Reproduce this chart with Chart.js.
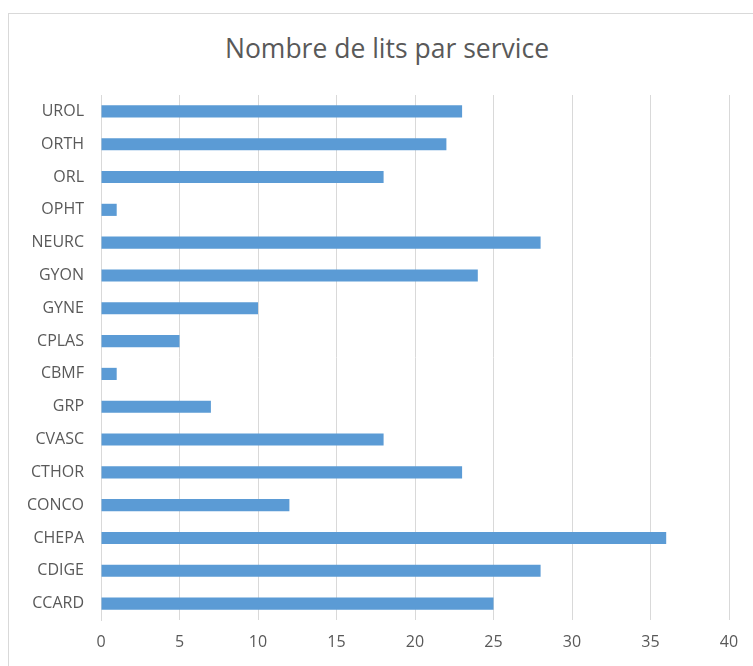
<!DOCTYPE html>
<html>
<head>
<meta charset="utf-8">
<script src="https://cdn.jsdelivr.net/npm/chart.js@4.4.0/dist/chart.umd.min.js"></script>
<style>
  html, body { margin: 0; padding: 0; background: #fff; overflow: hidden; }
  #frame { position: absolute; left: 8px; top: 13px; width: 780px; height: 700px; border: 1px solid #d9d9d9; }
  #wrap { position: absolute; left: 0; top: 0; width: 753px; height: 666px; }
  #title { position: absolute; left: 187px; width: 400px; top: 30px; text-align: center;
           font-family: 'Open Sans', sans-serif; font-size: 26.5px; line-height: 36px; color: #595959; }
</style>
</head>
<body>
<div id="frame"></div>
<div id="title">Nombre de lits par service</div>
<div id="wrap"><canvas id="barChart"></canvas></div>
<script>
// services, top to bottom as in the picture
const services = ["UROL", "ORTH", "ORL", "OPHT", "NEURC", "GYON", "GYNE", "CPLAS",
                  "CBMF", "GRP", "CVASC", "CTHOR", "CONCO", "CHEPA", "CDIGE", "CCARD"];
const lits = [23, 22, 18, 1, 28, 24, 10, 5, 1, 7, 18, 23, 12, 36, 28, 25];

const fontName = "'Open Sans', sans-serif";
const textGrey = "#595959";
const gridGrey = "#d9d9d9";

const setupBlock = {
    labels: services,
    datasets: [{
        label: "Nombre de lits",
        data: lits,
        backgroundColor: "#5b9bd5",
        barPercentage: 0.37,
        categoryPercentage: 1
    }]
};

const configBlock = {
    type: "bar",
    data: setupBlock,
    options: {
        indexAxis: "y",
        responsive: true,
        maintainAspectRatio: false,
        animation: false,
        layout: {
            padding: { left: 0, right: 24, top: 95, bottom: 0 }
        },
        plugins: {
            legend: { display: false },
            tooltip: { enabled: false },
            title: { display: false }
        },
        scales: {
            x: {
                min: 0,
                max: 40,
                ticks: { stepSize: 5, color: textGrey, padding: 13, font: { family: fontName, size: 16 } },
                grid: { color: gridGrey, drawTicks: false },
                border: { display: false },
                afterFit: function (axis) { axis.height = 46; }
            },
            y: {
                ticks: { color: textGrey, padding: 9, font: { family: fontName, size: 16 } },
                grid: { display: false },
                border: { color: gridGrey },
                afterFit: function (axis) { axis.width = 101; }
            }
        }
    }
};

const chart = new Chart(document.getElementById("barChart").getContext("2d"), configBlock);
</script>
</body>
</html>
